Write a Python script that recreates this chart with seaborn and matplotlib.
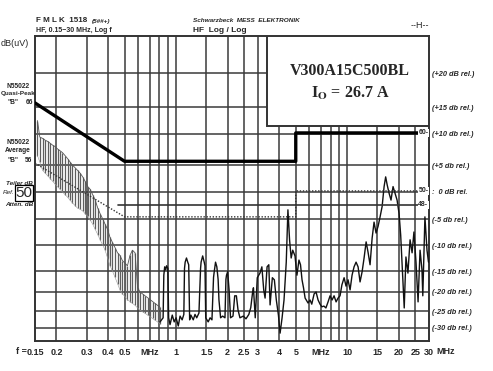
import numpy as np
import pandas as pd
import matplotlib
matplotlib.use("Agg")
import matplotlib.pyplot as plt
import seaborn as sns

# --- paper grid (Schwarzbeck FMLK 1518, HF log/log) ---
grid_freqs = [0.2, 0.3, 0.4, 0.5, 0.6, 0.7, 0.8, 0.9, 1, 1.5, 2, 2.5, 3, 4, 5, 6, 7, 8, 9, 10, 15, 20, 25]
grid_levels = [20, 25, 30, 35, 40, 45, 50, 55, 60, 65, 70]
tick_freqs = [0.15, 0.2, 0.3, 0.4, 0.5, 0.7, 1, 1.5, 2, 2.5, 3, 4, 5, 7, 10, 15, 20, 25, 30]
tick_labels = ['0.15', '0.2', '0.3', '0.4', '0.5', 'MHz', '1', '1.5', '2', '2.5', '3', '4', '5', 'MHz',
               '10', '15', '20', '25', '30']
rel_labels = ['(-30 db rel.)', '(-25 db rel.)', '(-20 db rel.)', '(-15 db rel.)', '(-10 db rel.)',
              '(-5 db rel.)', ':  0 dB rel.', '(+5 db rel.)', '(+10 db rel.)', '(+15 db rel.)', '(+20 dB rel.)']

# the dB axis of the sheet is not linear: level (dBuV) -> height on the sheet
scale_db = [0, 16.2, 20, 25, 30, 35, 40, 45, 50, 55, 60, 65, 70, 75.4, 100]
scale_pos = [-60, 0, 13, 30, 49, 70, 96, 122, 149, 176, 207, 234, 268, 305, 473]

# --- EN 55022 class B limits (as drawn on the sheet) ---
qp_freq = [0.15, 0.5, 5, 5, 30]
qp_db = [65.6, 55.6, 55.6, 60.2, 60.2]
avg_freq = [0.15, 0.5, 5, 5, 26.0]
avg_db = [55.3, 45.4, 45.4, 50.2, 50.2]
ref48_freq = [0.46, 26.0]
ref48_db = [47.6, 47.6]

# --- measured sweep, low band (fast vertical strokes) ---
hatch_freq = [0.155, 0.16, 0.166, 0.172, 0.178, 0.184, 0.19, 0.196, 0.203, 0.21, 0.217, 0.225, 0.233,
              0.24, 0.248, 0.257, 0.266, 0.275, 0.285, 0.294, 0.305, 0.315, 0.326, 0.337, 0.349, 0.36,
              0.373, 0.385, 0.398, 0.411, 0.425, 0.44, 0.455, 0.47, 0.486, 0.503, 0.52, 0.538, 0.556,
              0.576, 0.596, 0.616, 0.637, 0.659, 0.682, 0.705, 0.729, 0.753, 0.779, 0.806]
hatch_hi = [62.5, 59.5, 59.3, 59.0, 58.8, 58.5, 58.2, 58.0, 57.6, 57.3, 57.0, 56.5, 56.0,
            55.5, 55.0, 54.5, 54.0, 53.5, 52.8, 52.0, 51.0, 50.5, 49.5, 48.5, 47.0, 46.0,
            45.0, 44.0, 43.0, 41.5, 40.5, 39.5, 38.5, 38.0, 37.0, 36.5, 36.0, 38.0, 39.0,
            38.5, 31.0, 30.0, 29.5, 29.0, 28.5, 28.0, 27.5, 27.0, 26.5, 26.0]
hatch_lo = [56.5, 55.5, 54.0, 53.5, 53.0, 52.5, 52.0, 51.5, 51.0, 50.5, 50.0, 49.5, 49.0,
            48.5, 48.0, 47.5, 47.0, 46.8, 46.5, 46.0, 45.5, 44.8, 44.0, 43.0, 42.0, 41.0,
            40.0, 39.0, 37.5, 36.0, 35.0, 33.5, 32.0, 30.5, 29.5, 28.8, 28.0, 27.5, 27.0,
            26.5, 25.8, 25.2, 24.8, 24.3, 23.8, 23.3, 22.8, 22.3, 21.8, 21.3]

# --- measured sweep, 0.8 - 30 MHz ---
trace_freq = [0.806, 0.84, 0.848, 0.858, 0.87, 0.88, 0.895, 0.905, 0.922, 0.95, 0.975, 1.0, 1.03,
              1.055, 1.085, 1.11, 1.12, 1.13, 1.15, 1.17, 1.185, 1.2, 1.22, 1.26, 1.29, 1.32, 1.36,
              1.39, 1.4, 1.43, 1.46, 1.475, 1.49, 1.54, 1.58, 1.62, 1.655, 1.67, 1.70, 1.73, 1.76,
              1.78, 1.82, 1.87, 1.93, 1.955, 1.97, 2.0, 2.04, 2.08, 2.15, 2.19, 2.2, 2.25, 2.3,
              2.36, 2.47, 2.56, 2.66, 2.73, 2.8, 2.83, 2.9, 2.98, 3.09, 3.17, 3.25, 3.31,
              3.4, 3.48, 3.54, 3.65, 3.75, 3.85, 3.96, 4.05, 4.16, 4.27, 4.4, 4.5, 4.6, 4.7, 4.8,
              4.95, 5.08, 5.22, 5.33, 5.44, 5.55, 5.67, 5.9, 6.06, 6.2, 6.4, 6.57, 6.75, 6.93, 7.1,
              7.3, 7.5, 7.72, 7.93, 8.15, 8.37, 8.6, 8.83, 9.07, 9.3, 9.58, 9.83, 10.1, 10.38, 10.66,
              10.95, 11.25, 11.56, 11.87, 12.2, 12.53, 12.88, 13.22, 13.58, 13.96, 14.33, 14.72,
              15.13, 15.54, 15.97, 16.4, 16.75, 17.1, 17.53, 18.0, 18.5, 19.0, 19.53, 20.06, 20.5,
              20.9, 21.5, 22.0, 22.6, 23.26, 23.9, 24.5, 25.2, 25.9, 26.6, 27.3, 27.6, 28.4, 29.2, 29.8]
trace_db = [21.8, 23.0, 34.0, 35.8, 35.2, 36.0, 35.5, 23.0, 21.0, 23.8, 21.8, 23.0, 20.6,
            23.5, 22.4, 24.0, 35.5, 36.7, 37.5, 36.7, 36.2, 22.4, 23.8, 22.4, 24.0, 23.0, 24.4,
            35.5, 36.7, 37.9, 36.7, 36.0, 23.0, 21.8, 23.0, 22.4, 33.5, 34.8, 36.7, 35.8, 33.0,
            27.9, 23.0, 23.5, 23.0, 33.0, 34.0, 34.8, 30.5, 23.0, 23.5, 28.0, 29.0, 29.0, 25.3,
            23.0, 23.5, 22.7, 24.0, 25.9, 30.0, 31.0, 23.0, 33.4, 34.5, 35.8, 30.5, 28.4,
            35.8, 36.2, 26.6, 33.4, 32.9, 27.9, 23.8, 18.5, 23.0, 27.9, 36.7, 46.7, 41.0, 37.5, 39.0,
            37.9, 34.0, 37.1, 36.2, 32.9, 31.0, 28.4, 27.1, 27.9, 26.8, 29.5, 30.0, 27.9, 26.8, 26.1,
            26.3, 25.8, 27.4, 29.0, 27.9, 29.0, 27.4, 28.4, 29.0, 31.7, 33.4, 31.4, 32.9, 30.5, 34.0,
            35.8, 36.7, 35.8, 32.4, 34.8, 37.5, 40.6, 38.6, 36.2, 41.3, 44.4, 42.3,
            43.6, 45.4, 47.3, 51.0, 52.8, 51.3, 49.8, 48.5, 51.0, 49.8, 48.5, 46.0, 41.9,
            36.2, 25.8, 37.7, 34.5, 41.0, 38.5, 42.5, 36.6, 27.4, 39.0, 35.2, 29.0, 45.4, 39.0, 36.7]


def to_sheet(v):
    return np.interp(v, scale_db, scale_pos)


def from_sheet(p):
    return np.interp(p, scale_pos, scale_db)


sns.set_style("white")
plt.rcParams['font.family'] = ['Liberation Sans', 'DejaVu Sans']
plt.rcParams['mathtext.fontset'] = 'stix'

fig = plt.figure(figsize=(4.93, 3.71), dpi=100)
ax = fig.add_axes([35 / 493, 30 / 371, 394 / 493, 305 / 371])
ax.set_xscale('log')
ax.set_yscale('function', functions=(to_sheet, from_sheet))
ax.set_xlim(0.15, 30)
ax.set_ylim(16.2, 75.4)

# paper grid
ax.vlines(grid_freqs, 16.2, 75.4, color='#3a3a3a', lw=1.1, zorder=1)
ax.hlines(grid_levels, 0.15, 30, color='#3a3a3a', lw=1.1, zorder=1)

# low band strokes
ax.vlines(hatch_freq, hatch_lo, hatch_hi, color='#5e5e5e', lw=0.9, zorder=2)
sns.lineplot(x=hatch_freq, y=hatch_hi, ax=ax, color='#555555', lw=0.6, zorder=2)
sns.lineplot(x=hatch_freq, y=hatch_lo, ax=ax, color='#999999', lw=0.4, zorder=2)

# sweep
sns.lineplot(x=trace_freq, y=trace_db, ax=ax, color='#111111', lw=1.0, sort=False,
             estimator=None, zorder=3)

# limits
sns.lineplot(x=qp_freq, y=qp_db, ax=ax, color='black', lw=2.4, sort=False, estimator=None, zorder=4)
sns.lineplot(x=avg_freq, y=avg_db, ax=ax, color='#333333', lw=1.0, ls=(0, (1, 1.2)), sort=False,
             estimator=None, zorder=4)
sns.lineplot(x=ref48_freq, y=ref48_db, ax=ax, color='#333333', lw=1.2, estimator=None, zorder=4)

ax.set_xticks(tick_freqs, tick_labels)
ax.xaxis.set_minor_locator(matplotlib.ticker.NullLocator())
ax.tick_params(axis='x', length=0, pad=5, labelsize=6.5)
for lab in ax.get_xticklabels():
    lab.set_fontweight('bold')
ax.yaxis.tick_right()
ax.set_yticks(grid_levels, rel_labels)
ax.yaxis.set_minor_locator(matplotlib.ticker.NullLocator())
ax.tick_params(axis='y', length=0, pad=2, labelsize=5.3)
for lab in ax.get_yticklabels():
    lab.set_fontstyle('italic')
    lab.set_fontweight('bold')
ax.set_xlabel('')
ax.set_ylabel('')
for s in ax.spines.values():
    s.set_color('#333333')
    s.set_linewidth(1.4)

# markers on the right edge
for lvl, txt in [(60.2, '60-'), (50.2, '50-'), (47.6, '48-')]:
    ax.text(26.0, lvl, txt, fontsize=5.0, fontweight='bold', ha='left', va='center', zorder=5,
            bbox=dict(fc='white', ec='none', pad=0.2))

# device box
box = matplotlib.patches.Rectangle((232 / 394, 215 / 305), 162 / 394, 90 / 305, transform=ax.transAxes,
                                   fc='white', ec='#333333', lw=1.4, zorder=6)
ax.add_patch(box)
ax.text(0.80, 0.885, 'V300A15C500BL', transform=ax.transAxes, ha='center', va='center',
        family='Liberation Serif', fontweight='bold', fontsize=11.5, zorder=7)
ax.text(0.80, 0.81, r'I$_\mathbf{O}$ = 26.7 A', transform=ax.transAxes, ha='center', va='center',
        family='Liberation Serif', fontweight='bold', fontsize=11.5, zorder=7)

# header
fig.text(36 / 493, 1 - 21 / 371, 'F M L K  1518', fontsize=5.8, fontweight='bold', va='center')
fig.text(92 / 493, 1 - 21 / 371, '(5##+)', fontsize=4.6, fontstyle='italic', fontweight='bold', va='center')
fig.text(36 / 493, 1 - 30 / 371, 'HF, 0.15\u221230 MHz, Log f', fontsize=5, fontweight='bold', va='center')
fig.text(193 / 493, 1 - 20 / 371, 'Schwarzbeck  MESS  ELEKTRONIK', fontsize=4.6, fontstyle='italic',
         fontweight='bold', va='center')
fig.text(193 / 493, 1 - 30 / 371, 'HF  Log / Log', fontsize=6.0, fontweight='bold', va='center')
fig.text(420 / 493, 1 - 25 / 371, '--H--', fontsize=6.5, ha='center', va='center')

# left margin
fig.text(1 / 493, 1 - 43 / 371, 'dB(uV)', fontsize=6.5, va='center')
fig.text(18 / 493, 1 - 86 / 371, 'N55022', fontsize=4.8, fontweight='bold', ha='center', va='center')
fig.text(18 / 493, 1 - 94 / 371, 'Quasi-Peak', fontsize=4.6, fontweight='bold', ha='center', va='center')
fig.text(13 / 493, 1 - 103 / 371, '"B"', fontsize=4.8, fontweight='bold', ha='center', va='center')
fig.text(29 / 493, 1 - 103 / 371, '66', fontsize=4.8, fontweight='bold', ha='center', va='center')
fig.text(18 / 493, 1 - 143 / 371, 'N55022', fontsize=4.8, fontweight='bold', ha='center', va='center')
fig.text(18 / 493, 1 - 151 / 371, 'Average', fontsize=4.8, fontweight='bold', ha='center', va='center')
fig.text(13 / 493, 1 - 161 / 371, '"B"', fontsize=4.8, fontweight='bold', ha='center', va='center')
fig.text(29 / 493, 1 - 161 / 371, '56', fontsize=4.8, fontweight='bold', ha='center', va='center')
fig.text(33 / 493, 1 - 183 / 371, 'Teiler dB', fontsize=4.6, fontstyle='italic', fontweight='bold',
         ha='right', va='center')
fig.text(3 / 493, 1 - 193 / 371, 'Ref.', fontsize=4.6, fontstyle='italic', va='center')
fig.text(24 / 493, 1 - 193 / 371, '50', fontsize=11, ha='center', va='center',
         bbox=dict(fc='white', ec='black', lw=0.9, pad=0.6))
fig.text(33 / 493, 1 - 204 / 371, 'Atten. dB', fontsize=4.6, fontstyle='italic', fontweight='bold',
         ha='right', va='center')

# bottom
fig.text(27 / 493, 1 - 351 / 371, 'f =', fontsize=6.5, fontweight='bold', ha='right', va='center')
fig.text(436 / 493, 1 - 351 / 371, 'MHz', fontsize=6.5, fontweight='bold', va='center')

fig.savefig('out.png', dpi=100)
